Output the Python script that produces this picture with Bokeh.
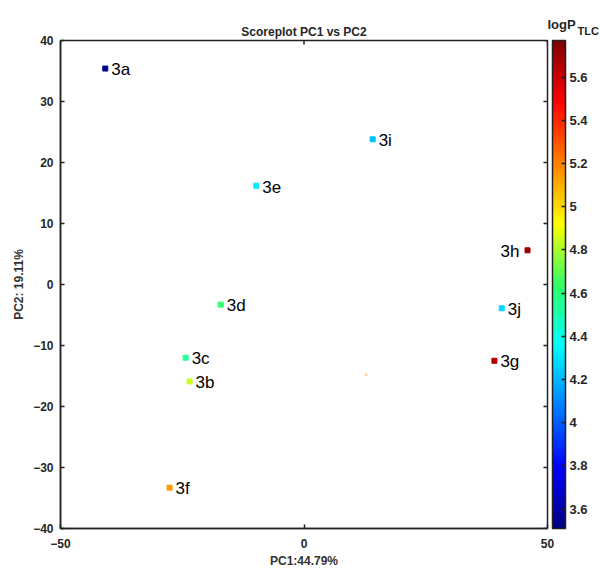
import math
from bokeh.plotting import figure
from bokeh.models import (ColumnDataSource, LinearColorMapper, ColorBar, FixedTicker,
                          CustomJSTickFormatter, Title, Range1d)
from bokeh.embed import file_html
from bokeh.resources import INLINE
from bokeh.core.properties import value

# ---- data ----
names = ["3a", "3b", "3c", "3d", "3e", "3f", "3g", "3h", "3i", "3j"]
pc1 = [-40.8, -23.5, -24.3, -17.1, -9.8, -27.6, 39.1, 45.9, 14.1, 40.6]
pc2 = [35.4, -15.9, -12.0, -3.3, 16.2, -33.3, -12.5, 5.6, 23.8, -3.9]
logp = [3.55, 4.85, 4.55, 4.62, 4.32, 5.15, 5.66, 5.70, 4.22, 4.27]
stray_x = [12.8]
stray_y = [-14.8]
cbar_ticks = [3.6, 3.8, 4.0, 4.2, 4.4, 4.6, 4.8, 5.0, 5.2, 5.4, 5.6]
x_ticks = [-50, 0, 50]
y_ticks = [-40, -30, -20, -10, 0, 10, 20, 30, 40]
left_labels = {"3h"}

# jet-like palette
ANCHORS = [(0.0, (0, 0, 0.5)), (0.125, (0, 0, 1)), (0.375, (0, 1, 1)),
           (0.5, (0.2, 1, 0.4)), (0.625, (1, 1, 0)), (0.875, (1, 0, 0)), (1.0, (0.5, 0, 0))]

def make_palette(n=256):
    out = []
    for i in range(n):
        v = i / (n - 1)
        for (a, ca), (b, cb_) in zip(ANCHORS[:-1], ANCHORS[1:]):
            if a <= v <= b:
                t = (v - a) / (b - a)
                rgb = [ca[k] + t * (cb_[k] - ca[k]) for k in range(3)]
                break
        out.append("#%02x%02x%02x" % tuple(int(round(255 * c)) for c in rgb))
    return out

mapper = LinearColorMapper(palette=make_palette(), low=3.51, high=5.77)

FONT = "Liberation Sans"
TXT = "#262626"
LINE = "#222222"

p = figure(width=600, height=570, output_backend="svg", toolbar_location=None,
           x_range=Range1d(-50, 50), y_range=Range1d(-40, 40),
           min_border_left=60, min_border_right=53, min_border_top=40, min_border_bottom=42,
           title="Scoreplot PC1 vs PC2")
p.title.align = "center"
p.title.text_font = FONT
p.title.text_font_size = "12px"
p.title.text_font_style = "bold"
p.title.text_color = TXT
p.title.standoff = -40
p.grid.visible = False
p.outline_line_color = LINE
p.outline_line_width = 1.5

for ax in (p.xaxis[0], p.yaxis[0]):
    ax.major_label_text_font = FONT
    ax.major_label_text_font_size = "12px"
    ax.major_label_text_font_style = "bold"
    ax.major_label_text_color = TXT
    ax.axis_label_text_font = FONT
    ax.axis_label_text_font_size = "12px"
    ax.axis_label_text_font_style = "bold"
    ax.axis_label_text_color = "#333333"
    ax.major_tick_in = 4
    ax.major_tick_out = 0
    ax.minor_tick_line_color = None
    ax.axis_line_color = LINE
    ax.axis_line_width = 1.5
    ax.major_tick_line_color = LINE
    ax.major_tick_line_width = 1.5

p.xaxis[0].ticker = FixedTicker(ticks=x_ticks)
p.yaxis[0].ticker = FixedTicker(ticks=y_ticks)
p.xaxis[0].axis_label = "PC1:44.79%"
p.yaxis[0].axis_label = "PC2: 19.11%"
p.xaxis[0].major_label_standoff = 10
p.xaxis[0].axis_label_standoff = 3
p.yaxis[0].major_label_standoff = 7
p.yaxis[0].axis_label_standoff = 4

# mirror ticks on the right and top edges of the frame
p.ray(x=[x_ticks[-1]] * len(y_ticks), y=y_ticks, length=4, length_units="screen",
      angle=math.pi, line_color=LINE, line_width=1.5)
p.ray(x=x_ticks, y=[y_ticks[-1]] * len(x_ticks), length=4, length_units="screen",
      angle=-math.pi / 2, line_color=LINE, line_width=1.5)

src = ColumnDataSource(dict(
    x=pc1, y=pc2, v=logp, name=names,
    align=["right" if n in left_labels else "left" for n in names],
    xo=[-8 if n in left_labels else 6 for n in names],
))

p.scatter("x", "y", source=src, marker="square", size=5,
          fill_color={"field": "v", "transform": mapper},
          line_color={"field": "v", "transform": mapper})
p.scatter(stray_x, stray_y, marker="square", size=2, fill_color="#f8a860",
          line_color=None, fill_alpha=0.8)

p.text("x", "y", text="name", source=src, x_offset="xo", y_offset=1,
       text_align="align", text_baseline="middle",
       text_font=value(FONT), text_font_size="17px", text_color="black")

cb = ColorBar(color_mapper=mapper, width=13, padding=0, margin=0, location=(5, 0),
              ticker=FixedTicker(ticks=cbar_ticks),
              formatter=CustomJSTickFormatter(code="return String(Math.round(tick*10)/10)"),
              major_label_text_font=FONT, major_label_text_font_size="13px",
              major_label_text_font_style="bold", major_label_text_color=TXT,
              major_tick_line_color=LINE, major_tick_in=4, major_tick_out=0,
              major_tick_line_width=1.5, label_standoff=4,
              bar_line_color=LINE, bar_line_width=1.5)
p.add_layout(cb, "right")

# colour-bar heading "logP" with subscript "TLC" (titles are not clipped to the frame)
p.add_layout(Title(text="TLC", align="left", offset=517, standoff=8, text_font=FONT,
                   text_font_size="11px", text_font_style="bold", text_color=TXT), "above")
p.add_layout(Title(text="logP", align="left", offset=487, standoff=-26, text_font=FONT,
                   text_font_size="13px", text_font_style="bold", text_color=TXT), "above")

open("out.html", "w").write(file_html(p, INLINE))
